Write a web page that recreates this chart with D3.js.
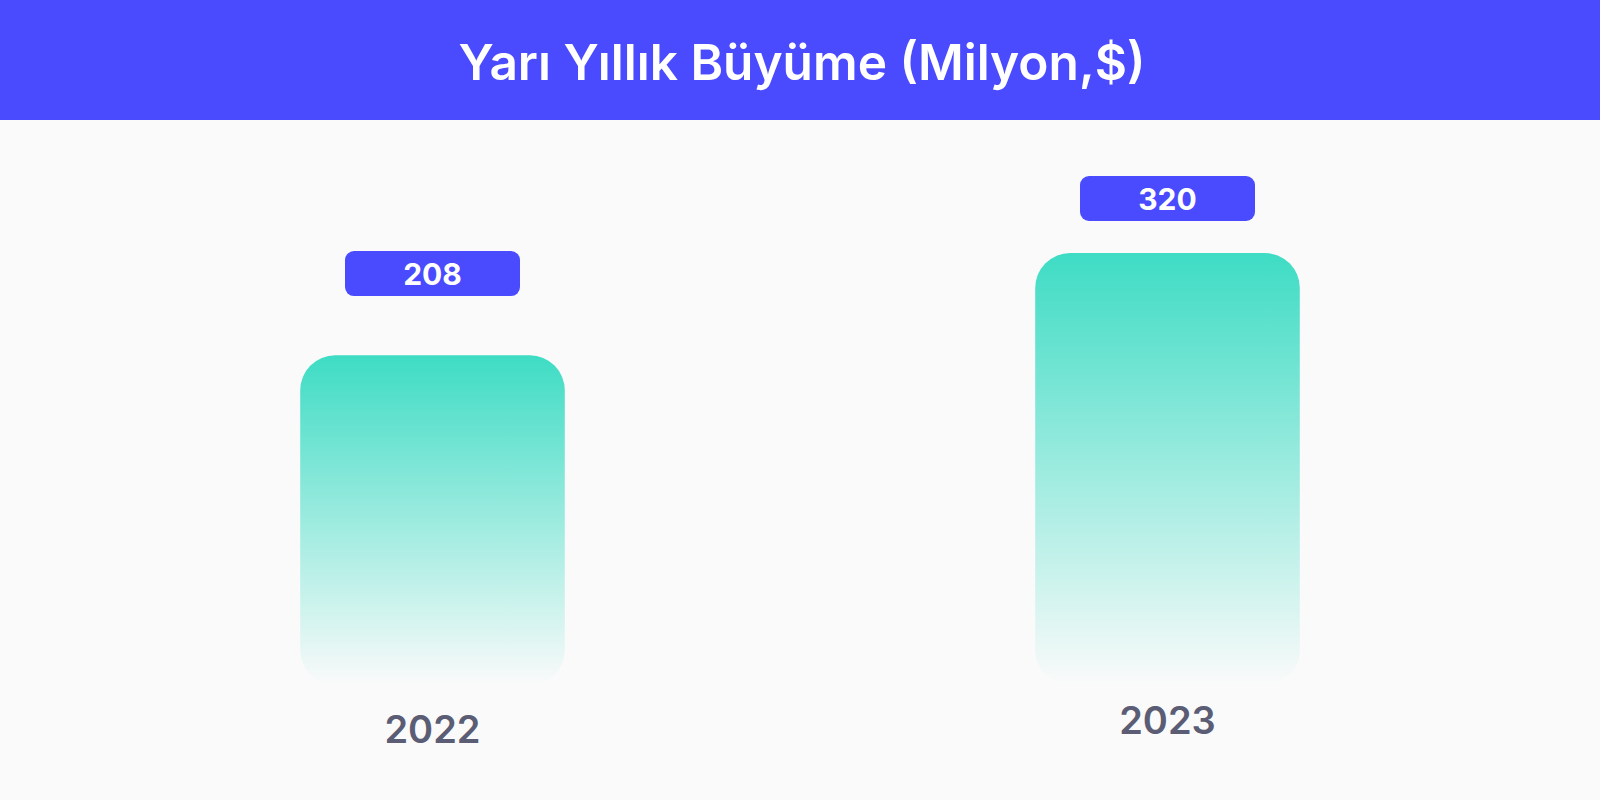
<!DOCTYPE html>
<html>
<head>
<meta charset="utf-8">
<script src="https://cdn.jsdelivr.net/npm/d3@7"></script>
<style>
  html, body { margin: 0; padding: 0; background: #fafafa; }
  svg { display: block; }
</style>
</head>
<body>
<div id="chart"></div>
<script>
const title = "Yarı Yıllık Büyüme (Milyon,$)";
const years = ["2022", "2023"];
const values = [208, 320];

const width = 1600, height = 800;
const headerH = 120;
const baseline = 685;

const svg = d3.select("#chart")
  .append("svg")
  .attr("width", width)
  .attr("height", height);

svg.append("rect")
  .attr("width", width)
  .attr("height", height)
  .attr("fill", "#fafafa");

// header band
svg.append("rect")
  .attr("width", width)
  .attr("height", headerH)
  .attr("fill", "#4a4aff");

svg.append("text")
  .attr("x", width / 2 + 2)
  .attr("y", 80)
  .attr("text-anchor", "middle")
  .style("font", "600 49.6px Inter, 'Noto Sans', sans-serif")
  .attr("fill", "#ffffff")
  .text(title);

const grad = svg.append("defs").append("linearGradient")
  .attr("id", "barFill")
  .attr("x1", 0).attr("y1", 0)
  .attr("x2", 0).attr("y2", 1);
grad.append("stop").attr("offset", "0%").attr("stop-color", "#3edcc4").attr("stop-opacity", 1);
grad.append("stop").attr("offset", "100%").attr("stop-color", "#3edcc4").attr("stop-opacity", 0);

let x = d3.scaleBand()
  .domain(years)
  .range([65, 1535])
  .paddingInner(0.64)
  .paddingOuter(0.32);

// bars don't start from zero in the original
let y = d3.scaleLinear().domain([-153, 320]).range([baseline, 253]);
// badges and year labels sit on their own scales
let badgeY = d3.scaleLinear().domain([-153, 320]).range([493, 176]);
let yearY = d3.scaleLinear().domain([208, 320]).range([743, 734]);

let data = years.map((d, i) => ({year: d, value: values[i]}));

svg.selectAll("rect.bar")
  .data(data)
  .enter().append("rect")
  .attr("class", "bar")
  .attr("x", d => x(d.year))
  .attr("y", d => y(d.value))
  .attr("width", x.bandwidth())
  .attr("height", d => baseline - y(d.value))
  .attr("rx", 35)
  .attr("ry", 35)
  .attr("fill", "url(#barFill)");

let badgeW = 175, badgeH = 45;

let badges = svg.selectAll("g.badge")
  .data(data)
  .enter().append("g")
  .attr("class", "badge")
  .attr("transform", d => `translate(${x(d.year) + x.bandwidth() / 2},${badgeY(d.value)})`);

badges.append("rect")
  .attr("x", -badgeW / 2)
  .attr("y", 0)
  .attr("width", badgeW)
  .attr("height", badgeH)
  .attr("rx", 9)
  .attr("fill", "#4a4aff");

badges.append("text")
  .attr("x", 0)
  .attr("y", badgeH / 2 + 11)
  .attr("text-anchor", "middle")
  .style("font", "700 30px Inter, 'Noto Sans', sans-serif")
  .attr("fill", "#ffffff")
  .text(d => d.value);

svg.selectAll("text.year")
  .data(data)
  .enter().append("text")
  .attr("class", "year")
  .attr("x", d => x(d.year) + x.bandwidth() / 2)
  .attr("y", d => yearY(d.value))
  .attr("text-anchor", "middle")
  .style("font", "600 38px Inter, 'Noto Sans', sans-serif")
  .attr("fill", "#5b5d75")
  .text(d => d.year);
</script>
</body>
</html>
